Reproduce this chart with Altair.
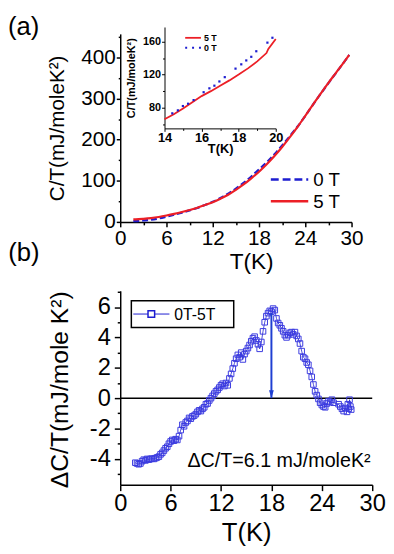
import altair as alt
import pandas as pd

FONT = "Liberation Sans"
RED = "#ec1f26"
BLUE = "#1d1dd0"
SQ_BLUE = "#3b3be0"
ARROW_BLUE = "#1f3fd2"

# ---------------- Panel (a): C/T versus T ----------------
T_a = [1.7, 2, 3, 4, 5, 6, 7, 8, 9, 10, 11, 12, 13, 14, 15, 16, 17, 18, 19,
       20, 21, 22, 23, 24, 25, 26, 27, 28, 29, 29.7]
CT_5T = [6.2, 6.3, 7.5, 9.3, 12.0, 15.5, 19.5, 24.0, 29.0, 34.5, 41.0, 48.0, 56.5, 66.0, 78.0,
         91.0, 106.0, 122.0, 140.0, 160.0, 182.0, 206.0, 231.0, 258.0, 285.0,
         312.0, 338.0, 363.0, 388.0, 406.0]
CT_0T = [1.9, 2.0, 3.5, 5.3, 8.4, 12.7, 17.3, 22.6, 28.0, 34.0, 41.2, 48.9, 58.0, 68.8, 81.0,
         95.0, 110.3, 127.7, 144.8, 164.2, 185.8, 208.5, 231.9, 257.7, 284.8,
         311.6, 337.3, 362.6, 387.8, 405.8]

# inset (14-20 K)
T_in_5T = [14, 14.5, 15, 15.5, 16, 16.5, 17, 17.5, 18, 18.5, 19, 19.5, 19.6, 20]
CT_in_5T = [66, 72, 79, 86.5, 94, 100, 106.5, 113, 120, 127.5, 136, 146, 151, 163]
T_in_0T = [14.42, 14.72, 14.99, 15.27, 15.57, 16.11, 16.42, 16.69, 16.96, 17.25, 17.83,
           18.14, 18.41, 18.68, 18.95, 19.55, 19.82]
CT_in_0T = [73.2, 76.8, 82.0, 84.8, 89.2, 98.7, 103.4, 106.6, 111.7, 116.9, 127.2,
            132.4, 137.1, 141.5, 148.2, 158.6, 164.5]

# ---------------- Panel (b): delta C/T ----------------
T_b = [1.8, 2.0, 2.2, 2.4, 2.6, 2.8, 3.0, 3.2, 3.4, 3.6, 3.8, 4.0, 4.2, 4.4, 4.6, 4.8,
       5.0, 5.2, 5.4, 5.6, 5.8, 6.0, 6.2, 6.4, 6.6, 6.8, 7.0, 7.2, 7.4, 7.6, 7.8, 8.0,
       8.2, 8.4, 8.6, 8.8, 9.0, 9.2, 9.4, 9.6, 9.8, 10.0, 10.2, 10.4, 10.6, 10.8, 11.0,
       11.2, 11.4, 11.6, 11.8, 12.0, 12.2, 12.4, 12.6, 12.8, 13.0, 13.2, 13.4, 13.6, 13.8,
       14.0, 14.2, 14.4, 14.6, 14.8, 15.0, 15.2, 15.4, 15.6, 15.8, 16.0, 16.2, 16.4, 16.6,
       16.8, 17.0, 17.2, 17.4, 17.6, 17.8, 18.0, 18.2, 18.4, 18.6, 18.8, 19.0, 19.2, 19.4,
       19.6, 19.8, 20.0, 20.2, 20.4, 20.6, 20.8, 21.0, 21.2, 21.4, 21.6, 21.8, 22.0, 22.2,
       22.4, 22.6, 22.8, 23.0, 23.2, 23.4, 23.6, 23.8, 24.0, 24.2, 24.4, 24.6, 24.8, 25.0,
       25.2, 25.4, 26.0, 26.2, 26.4, 26.6, 26.8, 27.0, 27.1, 27.2, 27.3, 27.4, 27.5]
dCT = [-4.25, -4.30, -4.35, -4.30, -4.15, -4.05, -4.10, -4.00, -4.05, -4.00, -3.98, -4.00,
       -3.95, -3.90, -3.85, -3.70, -3.60, -3.45, -3.30, -3.20, -3.00, -2.85, -2.75, -2.80,
       -2.70, -2.75, -2.50, -2.10, -1.75, -1.85, -1.60, -1.50, -1.30, -1.35, -1.20, -1.15,
       -1.05, -0.90, -0.80, -0.85, -0.70, -0.60, -0.40, -0.35, -0.15, 0.00, 0.15, 0.30,
       0.45, 0.55, 0.70, 0.85, 0.95, 0.80, 1.00, 0.85, 1.30, 1.60, 1.95, 2.30, 2.60, 2.85,
       2.70, 3.00, 2.55, 2.90, 3.10, 3.30, 3.50, 3.75, 3.95, 4.05, 3.80, 3.55, 3.25, 3.70,
       4.40, 5.00, 5.40, 5.60, 5.75, 5.70, 5.90, 5.80, 5.25, 4.95, 4.80, 4.60, 4.40, 4.15,
       4.00, 4.15, 4.30, 4.35, 4.20, 4.35, 4.10, 3.90, 3.60, 3.10, 2.70, 2.60, 2.35, 2.20,
       1.80, 1.40, 0.90, 0.45, 0.20, -0.05, -0.30, -0.45, -0.55, -0.60, -0.35, -0.20, -0.25,
       -0.10, -0.30, -0.40, -0.55, -0.70, -0.85, -0.65, -0.90, -0.40, -0.70, -0.10, -0.55,
       -0.75]
peak_T = [18.0]
peak_top = [5.6]
zero_level = [0]

legend_a = ["0 T", "5 T"]
legend_inset = ["5 T", "0 T"]
legend_b = ["0T-5T"]
annotation_b = ["ΔC/T=6.1 mJ/moleK²"]
panel_labels = ["(a)", "(b)"]


def tick_cond(test, minor, major):
    return {"condition": {"test": test, "value": minor}, "value": major}


def one(label):
    return alt.Chart(pd.DataFrame({"label": [label]}))


# ---------------- panel (a) main ----------------
W_A, H_A = 235, 191
sxA = alt.Scale(domain=[0, 30], nice=False, zero=False)
syA = alt.Scale(domain=[0, 457], nice=False, zero=False)
axA_x = alt.Axis(values=list(range(0, 31, 3)),
                 labelExpr="datum.value % 6 === 0 ? '' + datum.value : ''",
                 tickSize=tick_cond("datum.value % 6 !== 0", 3, 5),
                 labelFontSize=21, labelPadding=1, labelOverlap=False, labelFlush=False,
                 title="T(K)", titleFontSize=23, titleX=133, titleY=47,
                 titleBaseline="alphabetic", grid=False)
axA_y = alt.Axis(values=list(range(0, 451, 50)),
                 labelExpr="datum.value % 100 === 0 ? '' + datum.value : ''",
                 tickSize=tick_cond("datum.value % 100 !== 0", 2, 4),
                 labelFontSize=21, labelPadding=1, labelOverlap=False, labelFlush=False,
                 title="C/T(mJ/moleK²)", titleFontSize=21, titleX=-64, titleY=95.5,
                 titleBaseline="middle", grid=False)
xA = alt.X("T:Q", scale=sxA, axis=axA_x)
yA = alt.Y("CT:Q", scale=syA, axis=axA_y)

line0 = alt.Chart(pd.DataFrame({"T": T_a, "CT": CT_0T})).mark_line(
    color=BLUE, strokeWidth=2.2, strokeDash=[6, 3], interpolate="monotone").encode(x=xA, y=yA)
line5 = alt.Chart(pd.DataFrame({"T": T_a, "CT": CT_5T})).mark_line(
    color=RED, strokeWidth=2.2, interpolate="monotone").encode(x=xA, y=yA)

legA_0 = one(legend_a[0]).mark_rule(color=BLUE, strokeWidth=2.6, strokeDash=[8, 4]).encode(
    x=alt.value(153), x2=alt.value(191), y=alt.value(148))
legA_5 = one(legend_a[1]).mark_rule(color=RED, strokeWidth=2.6).encode(
    x=alt.value(153), x2=alt.value(191), y=alt.value(170))
legA_t0 = one(legend_a[0]).mark_text(font=FONT, fontSize=19, align="left", baseline="alphabetic",
                                     color="black").encode(
    text="label:N", x=alt.value(196), y=alt.value(155))
legA_t5 = one(legend_a[1]).mark_text(font=FONT, fontSize=19, align="left", baseline="alphabetic",
                                     color="black").encode(
    text="label:N", x=alt.value(196), y=alt.value(177))
lab_a = one(panel_labels[0]).mark_text(font=FONT, fontSize=26, align="left", baseline="alphabetic",
                                       color="black").encode(
    text="label:N", x=alt.value(-114), y=alt.value(1))

main_a = alt.layer(line0, line5, legA_0, legA_5, legA_t0, legA_t5, lab_a)

# ---------------- panel (a) inset ----------------
sxI = alt.Scale(domain=[14, 20], range=[45, 158], nice=False, zero=False)
syI = alt.Scale(domain=[55, 177.5], range=[96, -7], nice=False, zero=False)
axI_x = alt.Axis(orient="bottom", offset=-95, values=[14, 15, 16, 17, 18, 19, 20],
                 labelExpr="datum.value % 2 === 0 ? '' + datum.value : ''",
                 tickSize=tick_cond("datum.value % 2 !== 0", 2, 3),
                 labelFontSize=13, labelFontWeight="bold", labelPadding=0,
                 labelOverlap=False, labelFlush=False,
                 domainWidth=1, tickWidth=1,
                 title="T(K)", titleFontSize=13, titleFontWeight="bold", titleX=101.5, titleY=24,
                 titleBaseline="alphabetic", grid=False)
axI_y = alt.Axis(orient="left", offset=-45, values=[60, 80, 100, 120, 140, 160],
                 labelExpr="datum.value % 40 === 0 ? '' + datum.value : ''",
                 tickSize=tick_cond("datum.value % 40 !== 0", 2, 3),
                 labelFontSize=11, labelFontWeight="bold", labelPadding=1,
                 labelOverlap=False, labelFlush=False,
                 domainWidth=1, tickWidth=1,
                 title="C/T(mJ/moleK²)", titleFontSize=11, titleFontWeight="bold",
                 titleX=-33, titleY=44.5, titleBaseline="middle", grid=False)
xI = alt.X("T:Q", scale=sxI, axis=axI_x)
yI = alt.Y("CT:Q", scale=syI, axis=axI_y)

in5 = alt.Chart(pd.DataFrame({"T": T_in_5T, "CT": CT_in_5T})).mark_line(
    color=RED, strokeWidth=1.8).encode(x=xI, y=yI)
in0 = alt.Chart(pd.DataFrame({"T": T_in_0T, "CT": CT_in_0T})).mark_point(
    shape="square", filled=True, size=5, color=BLUE, opacity=1).encode(x=xI, y=yI)
legI_5 = one(legend_inset[0]).mark_rule(color=RED, strokeWidth=1.8).encode(
    x=alt.value(66), x2=alt.value(82), y=alt.value(4))
legI_0 = one(legend_inset[1]).mark_rule(color=BLUE, strokeWidth=2, strokeDash=[2, 5]).encode(
    x=alt.value(66), x2=alt.value(82), y=alt.value(14))
legI_t5 = one(legend_inset[0]).mark_text(font=FONT, fontSize=9, fontWeight="bold", align="left",
                                         baseline="middle", color="black").encode(
    text="label:N", x=alt.value(85), y=alt.value(4))
legI_t0 = one(legend_inset[1]).mark_text(font=FONT, fontSize=9, fontWeight="bold", align="left",
                                         baseline="middle", color="black").encode(
    text="label:N", x=alt.value(85), y=alt.value(14))

inset_a = alt.layer(in5, in0, legI_5, legI_0, legI_t5, legI_t0)

panel_a = alt.layer(main_a, inset_a).resolve_scale(
    x="independent", y="independent").properties(width=W_A, height=H_A)

# ---------------- panel (b) ----------------
W_B, H_B = 256, 197
sxB = alt.Scale(domain=[0, 30], nice=False, zero=False)
syB = alt.Scale(domain=[-5.7, 7.07], nice=False, zero=False)
axB_x = alt.Axis(values=list(range(0, 31, 3)),
                 labelExpr="datum.value % 6 === 0 ? '' + datum.value : ''",
                 tickSize=tick_cond("datum.value % 6 !== 0", 3, 6),
                 labelFontSize=24, labelPadding=1, labelOverlap=False, labelFlush=False,
                 title="T(K)", titleFontSize=26, titleX=128, titleY=57,
                 titleBaseline="alphabetic", grid=False)
axB_y = alt.Axis(values=list(range(-5, 8)),
                 labelExpr="datum.value % 2 === 0 ? '' + datum.value : ''",
                 tickSize=tick_cond("datum.value % 2 !== 0", 3, 6),
                 labelFontSize=24, labelPadding=4, labelOverlap=False, labelFlush=False,
                 title="ΔC/T(mJ/mole K²)", titleFontSize=25, titleX=-61.7, titleY=100,
                 titleBaseline="middle", grid=False)
xB = alt.X("T:Q", scale=sxB, axis=axB_x)
yB = alt.Y("dCT:Q", scale=syB, axis=axB_y)

df_b = pd.DataFrame({"T": T_b, "dCT": dCT})
b_line = alt.Chart(df_b).mark_line(color=BLUE, strokeWidth=0.8).encode(x=xB, y=yB)
b_pts = alt.Chart(df_b).mark_point(shape="square", filled=False, size=32, color=SQ_BLUE,
                                   strokeWidth=1, opacity=1).encode(x=xB, y=yB)
zero_rule = alt.Chart(pd.DataFrame({"z": zero_level})).mark_rule(
    color="black", strokeWidth=1.5).encode(
    x=alt.datum(0, scale=sxB), x2=alt.datum(30), y=alt.Y("z:Q", scale=syB, axis=axB_y))
df_arrow = pd.DataFrame({"T": peak_T, "top": peak_top, "z": zero_level})
arrow_shaft = alt.Chart(df_arrow).mark_rule(color=ARROW_BLUE, strokeWidth=2).encode(
    x=alt.X("T:Q", scale=sxB, axis=axB_x), y=alt.Y("top:Q", scale=syB, axis=axB_y), y2="z:Q")
arrow_head = alt.Chart(df_arrow).mark_point(
    shape="M-0.6,-1L0.6,-1L0,1Z", filled=True, size=64, color=ARROW_BLUE, opacity=1,
    yOffset=-4).encode(x=alt.X("T:Q", scale=sxB, axis=axB_x),
                       y=alt.Y("z:Q", scale=syB, axis=axB_y))

legB_box = one(legend_b[0]).mark_rect(fill="white", stroke="black", strokeWidth=1.5).encode(
    x=alt.value(11.3), x2=alt.value(115.3), y=alt.value(10), y2=alt.value(37.3))
legB_line = one(legend_b[0]).mark_rule(color=BLUE, strokeWidth=1).encode(
    x=alt.value(13.3), x2=alt.value(50), y=alt.value(23.6))
legB_sym = one(legend_b[0]).mark_point(shape="square", filled=True, fill="white", size=45,
                                        stroke=BLUE, strokeWidth=1.5, opacity=1).encode(
    x=alt.value(31.6), y=alt.value(23.6))
legB_txt = one(legend_b[0]).mark_text(font=FONT, fontSize=16, align="left", baseline="alphabetic",
                                      color="black").encode(
    text="label:N", x=alt.value(55), y=alt.value(29.3))
annot = one(annotation_b[0]).mark_text(font=FONT, fontSize=20, align="left",
                                       baseline="alphabetic", color="black").encode(
    text="label:N", x=alt.value(68.3), y=alt.value(179.3))
lab_b = one(panel_labels[1]).mark_text(font=FONT, fontSize=26, align="left", baseline="alphabetic",
                                       color="black").encode(
    text="label:N", x=alt.value(-113.7), y=alt.value(-30.7))

panel_b = alt.layer(zero_rule, b_line, b_pts, arrow_shaft, arrow_head,
                    legB_box, legB_line, legB_sym, legB_txt, annot, lab_b).properties(
    width=W_B, height=H_B)

chart = alt.vconcat(panel_a, panel_b, spacing=70, bounds="flush").properties(
    padding={"left": 0, "top": 2, "right": 0, "bottom": 0}
).configure_view(stroke=None).configure_axis(
    domainColor="black", tickColor="black", labelColor="black", titleColor="black",
    domainWidth=1.5, tickWidth=1.5, labelFont=FONT, titleFont=FONT,
    titleFontWeight="normal", grid=False
)

chart.save("out.html", embed_options={"renderer": "svg", "actions": False})
